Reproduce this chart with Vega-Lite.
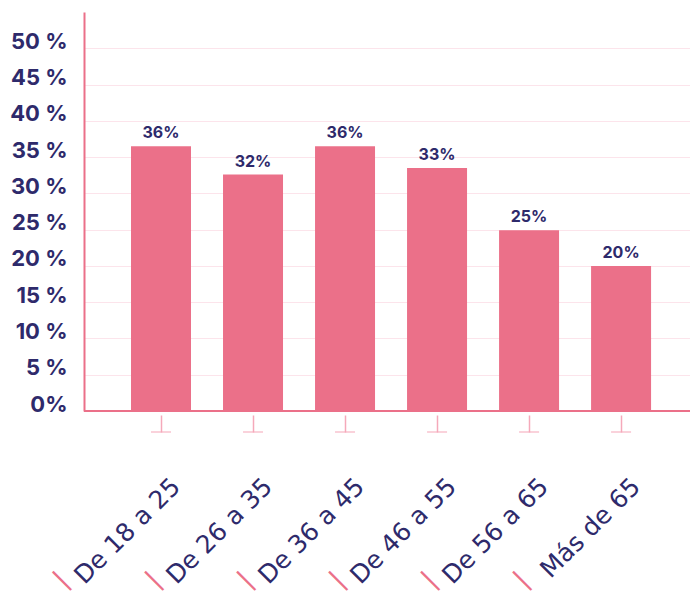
{
  "$schema": "https://vega.github.io/schema/vega-lite/v6.json",
  "autosize": {"type": "none"},
  "width": 606,
  "height": 399,
  "padding": {"left": 84, "top": 12, "right": 0, "bottom": 181},
  "background": "white",
  "config": {"view": {"stroke": null}, "font": "Inter"},
  "data": {
    "values": [
      {"grupo": "De 18 a 25", "valor": 36.5, "etiqueta": "36%"},
      {"grupo": "De 26 a 35", "valor": 32.6, "etiqueta": "32%"},
      {"grupo": "De 36 a 45", "valor": 36.5, "etiqueta": "36%"},
      {"grupo": "De 46 a 55", "valor": 33.5, "etiqueta": "33%"},
      {"grupo": "De 56 a 65", "valor": 24.9, "etiqueta": "25%"},
      {"grupo": "Más de 65", "valor": 20.0, "etiqueta": "20%"}
    ]
  },
  "encoding": {
    "x": {
      "field": "grupo", "type": "nominal", "sort": null,
      "scale": {"paddingInner": 0.348, "paddingOuter": 0.467, "align": 0.547},
      "axis": {
        "title": null, "domain": false, "offset": 4,
        "ticks": true, "tickSize": 17, "tickColor": "#F5A9BA", "tickWidth": 1.5,
        "labelAngle": -45, "labelAlign": "right", "labelBaseline": "middle",
        "labelPadding": 50, "labelOffset": 15, "labelOverlap": false, "labelBound": false,
        "labelFont": "DejaVu Sans", "labelFontSize": 25, "labelFontWeight": 400,
        "labelColor": "#2E2A6B"
      }
    },
    "y": {
      "field": "valor", "type": "quantitative",
      "scale": {"domain": [0, 55], "nice": false},
      "axis": {
        "title": null, "values": [0, 5, 10, 15, 20, 25, 30, 35, 40, 45, 50],
        "labelExpr": "datum.value == 0 ? '0%' : datum.value + ' %'",
        "labelOverlap": false, "labelBound": false, "labelBaseline": "alphabetic",
        "grid": true, "gridColor": "#FCE4EB", "gridWidth": 1.2,
        "domain": true, "domainColor": "#EB7089", "domainWidth": 2,
        "ticks": false, "labelPadding": 17,
        "labelFont": "Inter", "labelFontSize": 22, "labelFontWeight": 700,
        "labelColor": "#2E2A6B"
      }
    }
  },
  "layer": [
    {
      "mark": {"type": "bar", "color": "#EB7089"}
    },
    {
      "mark": {"type": "text", "baseline": "alphabetic", "dy": -8, "font": "Inter", "fontSize": 16, "fontWeight": 700, "color": "#2E2A6B"},
      "encoding": {
        "text": {"field": "etiqueta"}
      }
    },
    {
      "mark": {"type": "rule", "color": "#EB7089", "strokeWidth": 2},
      "encoding": {"y": {"datum": 0, "type": "quantitative"}, "x": null}
    },
    {
      "mark": {"type": "tick", "color": "#F5A9BA", "thickness": 1.5, "size": 20, "yOffset": 21},
      "encoding": {"y": {"datum": 0, "type": "quantitative"}}
    },
    {
      "mark": {"type": "text", "color": "#EB7089", "fontSize": 26, "angle": -45, "dx": -190, "dy": 49, "font": "DejaVu Sans", "baseline": "middle", "align": "center"},
      "encoding": {"y": {"datum": 0, "type": "quantitative"}, "text": {"value": "|"}}
    }
  ]
}
